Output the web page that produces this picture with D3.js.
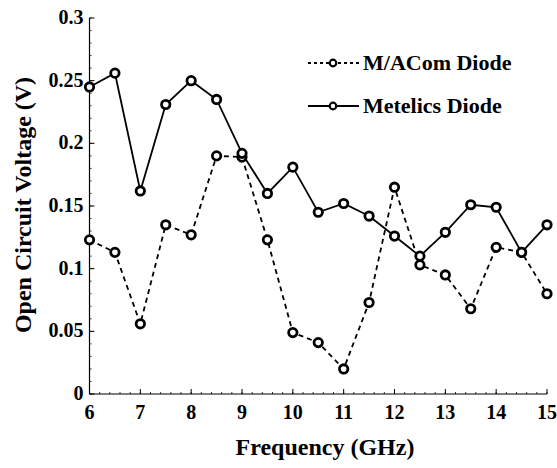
<!DOCTYPE html>
<html><head><meta charset="utf-8">
<script src="https://cdn.jsdelivr.net/npm/d3@7"></script>
<style>body{margin:0;background:#fff}svg{display:block}</style>
</head><body><svg id="c" width="557" height="468"></svg>
<script>
const freq = [6,6.5,7,7.5,8,8.5,9,9.5,10,10.5,11,11.5,12,12.5,13,13.5,14,14.5,15];
const macom = [0.123,0.113,0.056,0.135,0.127,0.190,0.189,0.123,0.049,0.041,0.020,0.073,0.165,0.103,0.095,0.068,0.117,0.113,0.080];
const metelics = [0.245,0.256,0.162,0.231,0.250,0.235,0.192,0.160,0.181,0.145,0.152,0.142,0.126,0.110,0.129,0.151,0.149,0.113,0.135];
const xTicks = [6,7,8,9,10,11,12,13,14,15];
const yTicks = [0,0.05,0.1,0.15,0.2,0.25,0.3];
const yTickLabels = ["0","0.05","0.1","0.15","0.2","0.25","0.3"];
const seriesNames = ["M/ACom Diode","Metelics Diode"];

const FONT = "'Liberation Serif', 'Times New Roman', 'DejaVu Serif', serif";
const svg = d3.select("#c").attr("font-family",FONT).attr("font-weight","bold");
const x = d3.scaleLinear().domain([6,15]).range([89.5,547]);
const y = d3.scaleLinear().domain([0,0.3]).range([394,18]);

const xMinor = d3.range(6,15.001,0.2);
const yMinor = d3.range(0,0.3001,0.01);
const g = svg.append("g");
g.append("line").attr("x1",x(6)).attr("x2",x(15)).attr("y1",y(0)).attr("y2",y(0)).attr("stroke","#000").attr("stroke-width",1.2);
g.append("line").attr("x1",x(6)).attr("x2",x(6)).attr("y1",y(0)).attr("y2",y(0.3)).attr("stroke","#000").attr("stroke-width",1.2);
g.selectAll(".xm").data(xMinor).enter().append("line")
 .attr("x1",d=>x(d)).attr("x2",d=>x(d)).attr("y1",y(0)).attr("y2",y(0)-2).attr("stroke","#000").attr("stroke-width",0.8);
g.selectAll(".xM").data(xTicks).enter().append("line")
 .attr("x1",d=>x(d)).attr("x2",d=>x(d)).attr("y1",y(0)).attr("y2",y(0)-5).attr("stroke","#000").attr("stroke-width",1);
g.selectAll(".ym").data(yMinor).enter().append("line")
 .attr("x1",x(6)).attr("x2",x(6)+2).attr("y1",d=>y(d)).attr("y2",d=>y(d)).attr("stroke","#000").attr("stroke-width",0.8);
g.selectAll(".yM").data(yTicks).enter().append("line")
 .attr("x1",x(6)).attr("x2",x(6)+5).attr("y1",d=>y(d)).attr("y2",d=>y(d)).attr("stroke","#000").attr("stroke-width",1);

g.selectAll(".xl").data(xTicks).enter().append("text")
 .attr("x",d=>x(d)).attr("y",y(0)+25).attr("text-anchor","middle").attr("font-size",20).text(d=>d);
g.selectAll(".yl").data(yTicks).enter().append("text")
 .attr("x",x(6)-6).attr("y",(d)=>y(d)+6).attr("text-anchor","end").attr("font-size",20).text((d,i)=>yTickLabels[i]);

svg.append("text").attr("x",325).attr("y",455).attr("text-anchor","middle").attr("font-size",24).text("Frequency (GHz)");
svg.append("text").attr("transform","translate(31,205) rotate(-90)").attr("text-anchor","middle").attr("font-size",24).text("Open Circuit Voltage (V)");

const line = d3.line().x((d,i)=>x(freq[i])).y(d=>y(d));
svg.append("path").datum(macom).attr("d",line).attr("fill","none").attr("stroke","#000").attr("stroke-width",1.8).attr("stroke-dasharray","5,4");
svg.append("path").datum(metelics).attr("d",line).attr("fill","none").attr("stroke","#000").attr("stroke-width",1.8);

function markers(data){
  const m = svg.append("g");
  m.selectAll("circle").data(data).enter().append("circle")
   .attr("cx",(d,i)=>x(freq[i])).attr("cy",d=>y(d)).attr("r",4.2).attr("fill","#fff").attr("stroke","#000").attr("stroke-width",2.8);
}
markers(macom);
markers(metelics);

const leg = [{y:63,dash:"3,3"},{y:106,dash:null}];
leg.forEach((l,i)=>{
  const p = svg.append("line").attr("x1",308).attr("x2",359).attr("y1",l.y).attr("y2",l.y).attr("stroke","#000").attr("stroke-width",2);
  if(l.dash) p.attr("stroke-dasharray",l.dash);
  svg.append("circle").attr("cx",333).attr("cy",l.y).attr("r",3.3).attr("fill","#fff").attr("stroke","#000").attr("stroke-width",2.2);
  svg.append("text").attr("x",363).attr("y",l.y+7).attr("font-size",22).text(seriesNames[i]);
});
</script></body></html>
